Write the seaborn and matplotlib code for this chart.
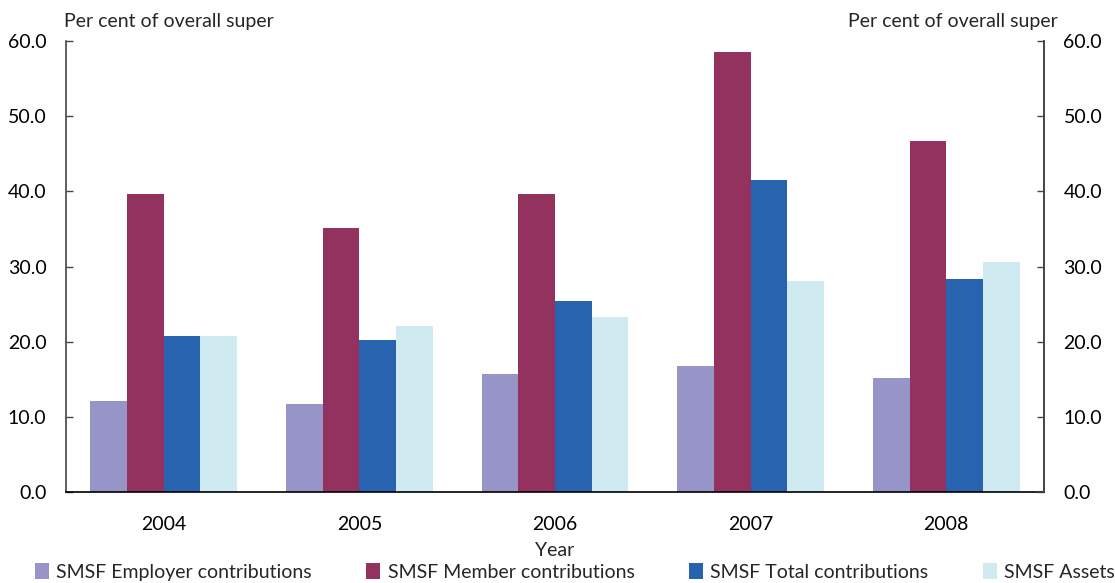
"""
plot.py
Grouped bar chart of SMSF shares of overall super, 2004-2008, with matching left and right axes.
Output: out.png
"""

import pandas as pd
import numpy as np
import matplotlib
matplotlib.use('Agg')
import matplotlib.pyplot as plt
import matplotlib.ticker as mticker
import seaborn as sns

# Data
years = ['2004', '2005', '2006', '2007', '2008']
series = ['SMSF Employer contributions', 'SMSF Member contributions',
          'SMSF Total contributions', 'SMSF Assets']
employer = [12.1, 11.7, 15.7, 16.8, 15.1]
member = [39.6, 35.1, 39.7, 58.5, 46.7]
total = [20.7, 20.2, 25.4, 41.5, 28.3]
assets = [20.7, 22.1, 23.3, 28.1, 30.6]
colours = ['#9794C7', '#93325F', '#2763AE', '#CFEAF0']
y_label = 'Per cent of overall super'

# Styling
sns.set_theme(style='white')
plt.rcParams['font.family'] = ['Lato', 'DejaVu Sans']
FS = 14
AXIS_COL = '#444444'

# Long table for seaborn
tbl = pd.DataFrame({'Year': years * 4,
                    'Series': np.repeat(series, len(years)),
                    'Value': employer + member + total + assets})

fig = plt.figure(figsize=(11.15, 5.83), dpi=100)
ax = fig.add_axes([66 / 1115, 1 - 492 / 583, (1044 - 66) / 1115, (492 - 41) / 583])

sns.barplot(data=tbl, x='Year', y='Value', hue='Series', hue_order=series,
            palette=colours, width=0.75, gap=0, saturation=1,
            edgecolor='none', linewidth=0, ax=ax, legend=False)

ax.set_ylim(0, 60)
ax.set_xlim(-0.5, len(years) - 0.5)
ax.set_yticks(np.arange(0, 61, 10))
ax.yaxis.set_major_formatter(mticker.FormatStrFormatter('%.1f'))
ax.set_ylabel('')
ax.set_xlabel('Year', fontsize=FS, labelpad=7)

# category boundary ticks on the x axis
ax.set_xticks(np.arange(len(years)))
ax.set_xticklabels(years)
ax.set_xticks(np.arange(-0.5, len(years), 1.0), minor=True)
ax.tick_params(axis='x', which='major', length=0, labelsize=FS, pad=17, colors='black')
ax.tick_params(axis='x', which='minor', direction='in', length=5, width=1, color=AXIS_COL)
ax.tick_params(axis='y', direction='in', length=5, width=1, color=AXIS_COL,
               labelsize=FS, pad=14, labelcolor='black')

ax.spines['top'].set_visible(False)
for side in ['left', 'right']:
    ax.spines[side].set_color(AXIS_COL)
    ax.spines[side].set_linewidth(1.2)
ax.spines['bottom'].set_color('black')
ax.spines['bottom'].set_linewidth(1.2)

# right axis mirrors the left one
ax2 = ax.twinx()
ax2.set_ylim(ax.get_ylim())
ax2.set_yticks(np.arange(0, 61, 10))
ax2.yaxis.set_major_formatter(mticker.FormatStrFormatter('%.1f'))
ax2.tick_params(axis='y', direction='in', length=5, width=1, color=AXIS_COL,
                labelsize=FS, pad=14, labelcolor='black')
ax2.spines['top'].set_visible(False)
ax2.spines['left'].set_visible(False)
ax2.spines['bottom'].set_visible(False)
ax2.spines['right'].set_color(AXIS_COL)
ax2.spines['right'].set_linewidth(1.2)
ax2.grid(False)

# unit labels above each axis
fig.text(64 / 1115, 1 - 22 / 583, y_label, fontsize=FS, ha='left', va='center')
fig.text(1058 / 1115, 1 - 22 / 583, y_label, fontsize=FS, ha='right', va='center')

# bottom legend (runs to the right edge as in the original)
handles = [plt.Rectangle((0, 0), 1, 1, facecolor=c, edgecolor='none') for c in colours]
fig.legend(handles, series, loc='lower left', bbox_to_anchor=(33 / 1115, 0.0),
           ncol=4, frameon=False, fontsize=FS, handlelength=0.7, handleheight=0.9,
           handletextpad=0.4, columnspacing=2.8, borderaxespad=0, borderpad=0.1)

plt.savefig('out.png', dpi=100)
